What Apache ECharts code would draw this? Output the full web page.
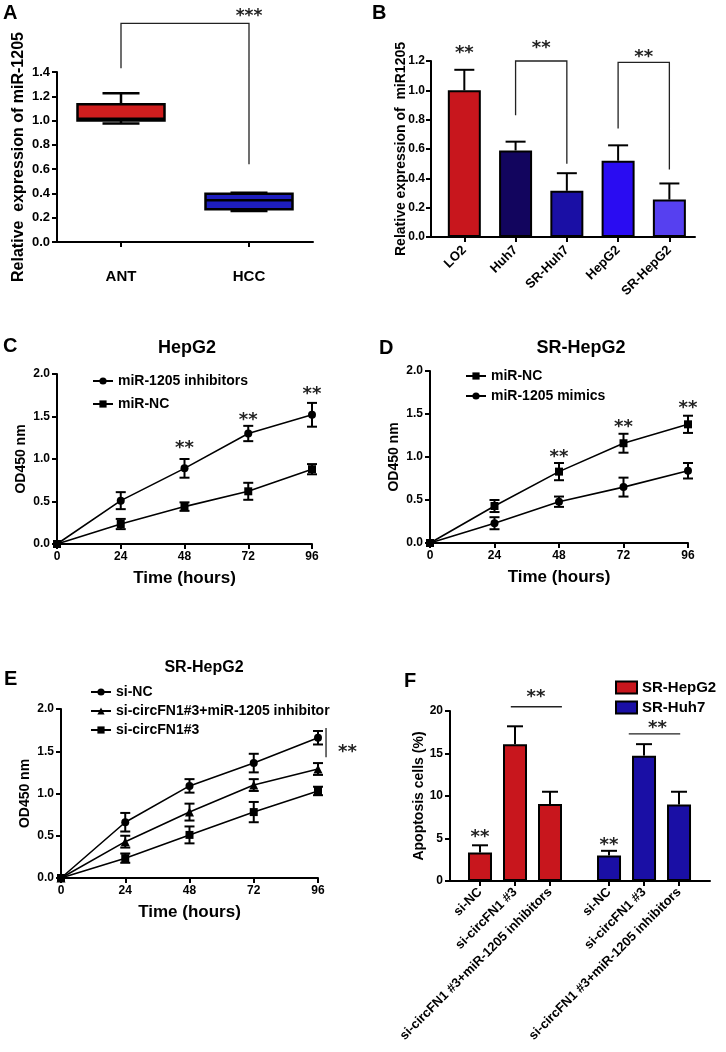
<!DOCTYPE html>
<html>
<head>
<meta charset="utf-8">
<script src="https://cdn.jsdelivr.net/npm/echarts@6/dist/echarts.min.js"></script>
<style>
  html, body { margin: 0; padding: 0; background: #fff; }
  #chart { width: 726px; height: 1052px; }
</style>
</head>
<body>
<div id="chart"></div>
<script>
const FONT = 'Liberation Sans';

// A: box plot
const aCats = ['ANT', 'HCC'];
const aBoxes = [[0.975, 1.0, 1.015, 1.135, 1.225], [0.255, 0.27, 0.343, 0.398, 0.405]];
const aColors = ['#cf1e1e', '#1e1ebe'];

// B: bars with SD
const bCats = ['LO2', 'Huh7', 'SR-Huh7', 'HepG2', 'SR-HepG2'];
const bMean = [1.0, 0.59, 0.315, 0.52, 0.255];
const bErr = [0.14, 0.06, 0.12, 0.105, 0.11];
const bColors = ['#c8161d', '#12055e', '#1a0fa5', '#2a0cf2', '#5640f0'];

// C, D, E: growth curves
const hours = [0, 24, 48, 72, 96];
const cInhib = [0, 0.51, 0.89, 1.30, 1.52];
const cInhibErr = [0, 0.10, 0.11, 0.09, 0.14];
const cNC = [0, 0.235, 0.44, 0.62, 0.88];
const cNCErr = [0, 0.06, 0.05, 0.10, 0.06];

const dNC = [0, 0.43, 0.83, 1.16, 1.38];
const dNCErr = [0, 0.07, 0.10, 0.11, 0.10];
const dMimic = [0, 0.23, 0.48, 0.65, 0.84];
const dMimicErr = [0, 0.07, 0.06, 0.11, 0.09];

const eNC = [0, 0.66, 1.09, 1.36, 1.66];
const eNCErr = [0, 0.11, 0.08, 0.11, 0.08];
const eRescue = [0, 0.43, 0.78, 1.10, 1.29];
const eRescueErr = [0, 0.07, 0.10, 0.07, 0.07];
const eSi = [0, 0.235, 0.51, 0.78, 1.03];
const eSiErr = [0, 0.055, 0.10, 0.12, 0.05];

// F: apoptosis
const fCats = ['si-NC', 'si-circFN1 #3', 'si-circFN1 #3+miR-1205 inhibitors'];
const fHepG2 = [3.35, 16.1, 9.05];
const fHepG2Err = [0.85, 2.1, 1.45];
const fHuh7 = [3.0, 14.75, 9.0];
const fHuh7Err = [0.55, 1.35, 1.5];

// significance marks: brackets [x1, x2, yTop, yEnd1, yEnd2], stars [x, y, count]
const aBrackets = [[0, 1, 1.8, 1.43, 0.64]];
const aStars = [[0.5, 1.897, 3]];
const bBrackets = [[1, 2, 1.2, 0.83, 0.5], [3, 4, 1.19, 0.74, 0.46]];
const bStars = [[0, 1.29, 2], [1.5, 1.32, 2], [3.5, 1.26, 2]];
const cStars = [[48, 1.19, 2], [72, 1.51, 2], [96, 1.82, 2]];
const dStars = [[48, 1.05, 2], [72, 1.40, 2], [96, 1.63, 2]];
const eBrackets = [[99, 99, 1.775, 1.43, 1.43]];
const eStars = [[107, 1.545, 2]];
const fBrackets = [[1.88, 3.34, 20.5, 20.5, 20.5], [5.25, 6.72, 17.3, 17.3, 17.3]];
const fStars = [[2.6, 22.15, 2], [6.07, 18.6, 2], [1, 5.76, 2], [4.686, 4.8, 2]];

// F bar positions: two groups of three with a wider gap between groups
const fGroupShift = 3.686;
const fPos = [0, 1].flatMap(g => fCats.map((_, i) => 1 + i + g * fGroupShift));
const bPos = bCats.map((_, i) => i);

const txt = (size, extra) => Object.assign({ color: '#000', fontFamily: FONT, fontWeight: 'bold', fontSize: size }, extra || {});
const BLACK = { color: '#000', width: 2 };

function axisBase(gi) {
  return {
    gridIndex: gi,
    nameMoveOverlap: false,
    axisLine: { show: true, onZero: false, lineStyle: BLACK },
    axisTick: { show: true, length: 5, lineStyle: BLACK },
    splitLine: { show: false },
    nameTextStyle: txt(14)
  };
}
function yValue(gi, max, interval, digits, name, size, gap, labelSize, margin) {
  return Object.assign(axisBase(gi), {
    type: 'value', min: 0, max: max, interval: interval,
    name: name, nameLocation: 'middle', nameGap: gap, nameTextStyle: txt(size),
    axisLabel: Object.assign(txt(labelSize), { margin: margin, formatter: v => v.toFixed(digits) })
  });
}
function xHours(gi, gap) {
  return Object.assign(axisBase(gi), {
    type: 'value', min: 0, max: 96, interval: 24,
    name: 'Time (hours)', nameLocation: 'middle', nameGap: gap, nameTextStyle: txt(17),
    axisLabel: Object.assign(txt(12), { margin: 7 })
  });
}

function errRender(capW, both) {
  return function (params, api) {
    const x = api.value(0), y = api.value(1), e = api.value(2);
    if (!e) return null;
    const top = api.coord([x, y + e]);
    const bot = api.coord([x, both ? y - e : y]);
    const h = capW / 2;
    const s = { stroke: '#000', lineWidth: 2 };
    const kids = [
      { type: 'line', shape: { x1: top[0], y1: top[1], x2: bot[0], y2: bot[1] }, style: s },
      { type: 'line', shape: { x1: top[0] - h, y1: top[1], x2: top[0] + h, y2: top[1] }, style: s }
    ];
    if (both) kids.push({ type: 'line', shape: { x1: bot[0] - h, y1: bot[1], x2: bot[0] + h, y2: bot[1] }, style: s });
    return { type: 'group', children: kids };
  };
}
function errSeries(gi, xs, ys, es, capW, both) {
  return {
    type: 'custom', xAxisIndex: gi, yAxisIndex: gi, z: 3,
    renderItem: errRender(capW, both),
    encode: { x: 0, y: 1 },
    data: xs.map((x, i) => [x, ys[i], es[i]])
  };
}
function lineSeries(gi, name, ys, symbol, size) {
  return {
    name: name, type: 'line', xAxisIndex: gi, yAxisIndex: gi, z: 4,
    symbol: symbol, symbolSize: size,
    itemStyle: { color: '#000' }, lineStyle: { color: '#000', width: 1.6 },
    data: hours.map((h, i) => [h, ys[i]])
  };
}
function bracketSeries(gi, data) {
  return {
    type: 'custom', xAxisIndex: gi, yAxisIndex: gi, silent: true,
    encode: { x: 0, y: 2 },
    renderItem: function (params, api) {
      const x1 = api.value(0), x2 = api.value(1), yt = api.value(2);
      const pts = [api.coord([x1, api.value(3)]), api.coord([x1, yt]), api.coord([x2, yt]), api.coord([x2, api.value(4)])];
      return { type: 'polyline', shape: { points: pts }, style: { stroke: '#222', lineWidth: 1.3, fill: null } };
    },
    data: data
  };
}
function starSeries(gi, data, size) {
  return {
    type: 'custom', xAxisIndex: gi, yAxisIndex: gi, silent: true,
    encode: { x: 0, y: 1 },
    renderItem: function (params, api) {
      const p = api.coord([api.value(0), api.value(1)]);
      return {
        type: 'text', x: p[0], y: p[1] + size * 0.28,
        style: { text: '*'.repeat(api.value(2)), fill: '#222', font: 'bold ' + size + 'px "DejaVu Sans"', align: 'center', verticalAlign: 'middle' }
      };
    },
    data: data
  };
}

const letter = (t, x, y) => ({ text: t, left: x, top: y, padding: 0, textStyle: txt(20) });
const heading = (t, x, y, size) => ({ text: t, left: x, top: y, padding: 0, textAlign: 'center', textStyle: txt(size) });
const lineLegend = (names, x, y, gap) => ({
  data: names, left: x, top: y, orient: 'vertical', padding: 0, itemGap: gap,
  itemWidth: 20, itemHeight: 9, textStyle: txt(14), selectedMode: false
});

const chart = echarts.init(document.getElementById('chart'));
chart.setOption({
  animation: false,
  backgroundColor: '#fff',
  title: [
    letter('A', 3, 3), letter('B', 372, 3), letter('C', 3, 336), letter('D', 379, 338),
    letter('E', 4, 669), letter('F', 404, 671),
    heading('HepG2', 187, 339, 18), heading('SR-HepG2', 581, 339, 18), heading('SR-HepG2', 204, 660, 16)
  ],
  legend: [
    lineLegend(['miR-1205 inhibitors', 'miR-NC'], 92, 374, 9),
    lineLegend(['miR-NC', 'miR-1205 mimics'], 465, 369, 6),
    lineLegend(['si-NC', 'si-circFN1#3+miR-1205 inhibitor', 'si-circFN1#3'], 90, 685, 5),
    { data: ['SR-HepG2', 'SR-Huh7'], left: 615, top: 680, orient: 'vertical', padding: 0, itemGap: 5, itemWidth: 21, itemHeight: 12, icon: 'rect', textStyle: txt(15), selectedMode: false }
  ],
  grid: [
    { left: 57, top: 72, width: 256, height: 170 },
    { left: 431, top: 61, width: 264, height: 176 },
    { left: 57, top: 374, width: 255, height: 170 },
    { left: 430, top: 371, width: 258, height: 172 },
    { left: 61, top: 709, width: 257, height: 169 },
    { left: 450, top: 711, width: 260, height: 170 }
  ],
  xAxis: [
    Object.assign(axisBase(0), {
      type: 'category', data: aCats,
      axisTick: { show: true, alignWithLabel: true, length: 5, lineStyle: BLACK },
      axisLabel: Object.assign(txt(15), { margin: 27 })
    }),
    Object.assign(axisBase(1), {
      type: 'value', min: -0.65, max: 4.5,
      axisTick: { show: true, customValues: bPos, length: 5, lineStyle: BLACK },
      axisLabel: Object.assign(txt(13), { customValues: bPos, rotate: 45, margin: 11, formatter: v => bCats[Math.round(v)] })
    }),
    xHours(2, 26), xHours(3, 26), xHours(4, 26),
    Object.assign(axisBase(5), {
      type: 'value', min: 0.143, max: 7.571,
      axisTick: { show: true, customValues: fPos, length: 5, lineStyle: BLACK },
      axisLabel: Object.assign(txt(13), {
        customValues: fPos, rotate: 45, margin: 9,
        formatter: v => fCats[Math.round(v - 1 - (v > 4 ? fGroupShift : 0))]
      })
    })
  ],
  yAxis: [
    yValue(0, 1.4, 0.2, 1, 'Relative  expression of miR-1205', 16, 30, 13, 7),
    yValue(1, 1.2, 0.2, 1, 'Relative expression of  miR1205', 14, 23, 12, 6),
    yValue(2, 2.0, 0.5, 1, 'OD450 nm', 14, 29, 12, 7),
    yValue(3, 2.0, 0.5, 1, 'OD450 nm', 14, 29, 12, 7),
    yValue(4, 2.0, 0.5, 1, 'OD450 nm', 14, 29, 12, 7),
    yValue(5, 20, 5, 0, 'Apoptosis cells (%)', 14, 24, 12, 7)
  ],
  series: [
    // A
    {
      type: 'custom', xAxisIndex: 0, yAxisIndex: 0,
      encode: { x: 0, y: [1, 2, 3, 4, 5] },
      renderItem: function (params, api) {
        const x = api.value(0);
        const p = [1, 2, 3, 4, 5].map(d => api.coord([x, api.value(d)]));
        const cx = p[0][0], bw = 87, cw = 37;
        const s = { stroke: '#000', lineWidth: 2.5 };
        return {
          type: 'group', children: [
            { type: 'line', shape: { x1: cx, y1: p[4][1], x2: cx, y2: p[3][1] }, style: s },
            { type: 'line', shape: { x1: cx, y1: p[0][1], x2: cx, y2: p[1][1] }, style: s },
            { type: 'line', shape: { x1: cx - cw / 2, y1: p[4][1], x2: cx + cw / 2, y2: p[4][1] }, style: s },
            { type: 'line', shape: { x1: cx - cw / 2, y1: p[0][1], x2: cx + cw / 2, y2: p[0][1] }, style: s },
            { type: 'rect', shape: { x: cx - bw / 2, y: p[3][1], width: bw, height: p[1][1] - p[3][1] }, style: { fill: aColors[params.dataIndex], stroke: '#000', lineWidth: 2.5 } },
            { type: 'line', shape: { x1: cx - bw / 2, y1: p[2][1], x2: cx + bw / 2, y2: p[2][1] }, style: s }
          ]
        };
      },
      data: aBoxes.map((b, i) => [i].concat(b))
    },
    bracketSeries(0, aBrackets), starSeries(0, aStars, 17),
    // B
    {
      type: 'bar', xAxisIndex: 1, yAxisIndex: 1, barWidth: 33,
      data: bMean.map((v, i) => ({ value: [bPos[i], v], itemStyle: { color: bColors[i], borderColor: '#000', borderWidth: 2 } }))
    },
    errSeries(1, bPos, bMean, bErr, 20, false),
    bracketSeries(1, bBrackets), starSeries(1, bStars, 18),
    // C
    lineSeries(2, 'miR-1205 inhibitors', cInhib, 'circle', 8),
    lineSeries(2, 'miR-NC', cNC, 'rect', 8),
    errSeries(2, hours, cInhib, cInhibErr, 10, true),
    errSeries(2, hours, cNC, cNCErr, 10, true),
    starSeries(2, cStars, 18),
    // D
    lineSeries(3, 'miR-NC', dNC, 'rect', 8),
    lineSeries(3, 'miR-1205 mimics', dMimic, 'circle', 8),
    errSeries(3, hours, dNC, dNCErr, 10, true),
    errSeries(3, hours, dMimic, dMimicErr, 10, true),
    starSeries(3, dStars, 18),
    // E
    lineSeries(4, 'si-NC', eNC, 'circle', 8),
    lineSeries(4, 'si-circFN1#3+miR-1205 inhibitor', eRescue, 'triangle', 9),
    lineSeries(4, 'si-circFN1#3', eSi, 'rect', 8),
    errSeries(4, hours, eNC, eNCErr, 10, true),
    errSeries(4, hours, eRescue, eRescueErr, 10, true),
    errSeries(4, hours, eSi, eSiErr, 10, true),
    bracketSeries(4, eBrackets), starSeries(4, eStars, 18),
    // F
    {
      name: 'SR-HepG2', type: 'bar', xAxisIndex: 5, yAxisIndex: 5, barWidth: 24, barGap: '-100%',
      itemStyle: { color: '#c8161d', borderColor: '#000', borderWidth: 2 },
      data: fHepG2.map((v, i) => [fPos[i], v])
    },
    {
      name: 'SR-Huh7', type: 'bar', xAxisIndex: 5, yAxisIndex: 5, barWidth: 24, barGap: '-100%',
      itemStyle: { color: '#1a0fa5', borderColor: '#000', borderWidth: 2 },
      data: fHuh7.map((v, i) => [fPos[i + 3], v])
    },
    errSeries(5, fPos.slice(0, 3), fHepG2, fHepG2Err, 16, false),
    errSeries(5, fPos.slice(3), fHuh7, fHuh7Err, 16, false),
    bracketSeries(5, fBrackets), starSeries(5, fStars, 18)
  ]
});
</script>
</body>
</html>
